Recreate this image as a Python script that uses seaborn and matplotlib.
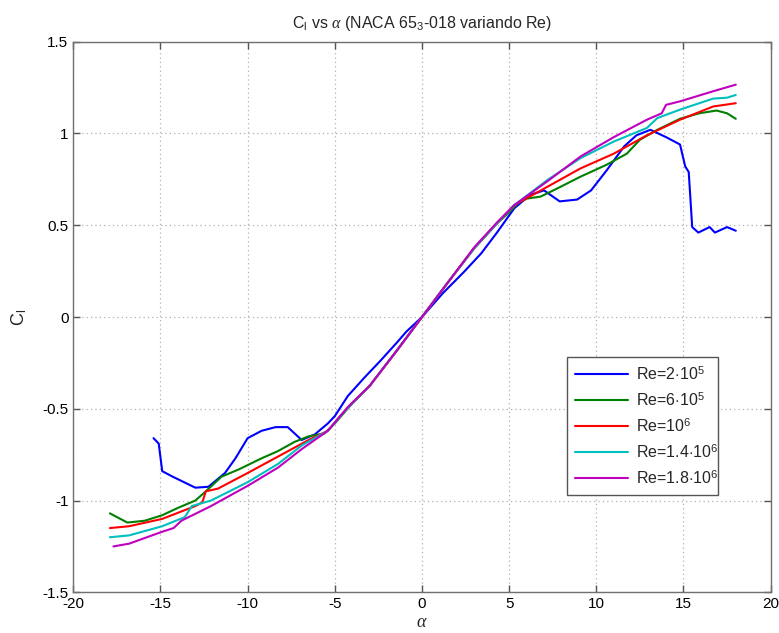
import numpy as np
import pandas as pd
import matplotlib
matplotlib.use("Agg")
import matplotlib.pyplot as plt
import seaborn as sns

# ---- data ----
labels = [r"Re=2$\cdot$10$^{5}$", r"Re=6$\cdot$10$^{5}$", r"Re=10$^{6}$",
          r"Re=1.4$\cdot$10$^{6}$", r"Re=1.8$\cdot$10$^{6}$"]

alpha_2e5 = [-15.4, -15.1, -14.9, -14.3, -13.0, -12.25, -11.3, -10.7, -10.0, -9.2, -8.4, -7.7,
             -6.9, -6.15, -5.4, -5.0, -4.25, -3.3, -2.4, -1.4, -0.9, 0.0, 1.2, 2.4, 3.4, 4.3,
             5.3, 6.2, 7.0, 7.9, 8.9, 9.7, 10.6, 11.6, 12.3, 13.1, 14.0, 14.8, 15.1, 15.3, 15.5,
             15.85, 16.5, 16.8, 17.5, 18.0]
cl_2e5 = [-0.66, -0.69, -0.84, -0.87, -0.93, -0.925, -0.85, -0.77, -0.66, -0.62, -0.60, -0.60,
          -0.67, -0.64, -0.58, -0.54, -0.43, -0.33, -0.24, -0.135, -0.08, 0.0, 0.13, 0.245,
          0.347, 0.46, 0.593, 0.665, 0.69, 0.63, 0.64, 0.69, 0.80, 0.93, 0.99, 1.02, 0.98, 0.94,
          0.82, 0.79, 0.49, 0.46, 0.49, 0.46, 0.49, 0.47]

alpha_6e5 = [-17.9, -16.9, -15.9, -14.9, -14.0, -13.0, -12.4, -11.5, -10.5, -9.2, -8.25, -7.3,
             -6.5, -5.6, -5.0, -4.0, -3.0, -1.5, 0.0, 1.5, 3.0, 4.3, 5.0, 5.5, 6.0, 6.8, 7.75, 9.1,
             10.6, 11.75, 12.5, 13.5, 14.8, 15.9, 16.9, 17.5, 18.0]
cl_6e5 = [-1.07, -1.12, -1.11, -1.08, -1.04, -1.00, -0.95, -0.87, -0.83, -0.77, -0.73, -0.68,
          -0.65, -0.635, -0.58, -0.47, -0.375, -0.19, 0.0, 0.19, 0.375, 0.51, 0.57, 0.62, 0.645,
          0.656, 0.70, 0.765, 0.83, 0.89, 0.966, 1.02, 1.08, 1.11, 1.125, 1.11, 1.08]

alpha_1e6 = [-17.9, -16.8, -14.9, -13.0, -12.6, -12.4, -11.7, -10.0, -8.25, -6.5, -5.4, -4.6,
             -3.0, -1.5, 0.0, 1.5, 3.0, 4.3, 5.3, 7.2, 9.1, 11.0, 12.9, 14.8, 16.7, 18.0]
cl_1e6 = [-1.15, -1.14, -1.10, -1.03, -1.01, -0.95, -0.935, -0.85, -0.76, -0.67, -0.62, -0.53,
          -0.375, -0.19, 0.0, 0.19, 0.375, 0.51, 0.61, 0.71, 0.81, 0.89, 0.99, 1.075, 1.147, 1.165]

alpha_14e6 = [-17.9, -16.8, -14.9, -13.6, -13.2, -12.1, -10.0, -8.25, -6.9, -5.4, -4.4, -3.0,
              -1.5, 0.0, 1.5, 3.0, 4.3, 5.3, 7.2, 9.1, 11.0, 12.9, 13.5, 14.8, 16.7, 17.5, 18.0]
cl_14e6 = [-1.20, -1.19, -1.14, -1.09, -1.03, -1.00, -0.90, -0.80, -0.70, -0.62, -0.51, -0.375,
           -0.19, 0.0, 0.19, 0.375, 0.51, 0.61, 0.747, 0.866, 0.956, 1.03, 1.084, 1.13, 1.19,
           1.195, 1.21]

alpha_18e6 = [-17.7, -16.8, -14.9, -14.25, -13.8, -12.1, -10.0, -8.25, -6.9, -5.4, -4.25, -3.0,
              -1.5, 0.0, 1.5, 3.0, 4.3, 5.3, 7.2, 9.1, 11.0, 12.9, 13.75, 14.0, 14.8, 16.7, 18.0]
cl_18e6 = [-1.25, -1.235, -1.17, -1.15, -1.11, -1.03, -0.92, -0.82, -0.72, -0.62, -0.49, -0.375,
           -0.19, 0.0, 0.19, 0.38, 0.515, 0.61, 0.74, 0.875, 0.98, 1.075, 1.11, 1.156, 1.175,
           1.23, 1.266]

colors = ["#0000ff", "#008000", "#ff0000", "#00bfbf", "#bf00bf"]
xticks = [-20, -15, -10, -5, 0, 5, 10, 15, 20]
yticks = [-1.5, -1, -0.5, 0, 0.5, 1, 1.5]
ytick_labels = ["-1.5", "-1", "-0.5", "0", "0.5", "1", "1.5"]

series = [(alpha_2e5, cl_2e5), (alpha_6e5, cl_6e5), (alpha_1e6, cl_1e6),
          (alpha_14e6, cl_14e6), (alpha_18e6, cl_18e6)]
frames = []
for lab, (a, c) in zip(labels, series):
    frames.append(pd.DataFrame({"alpha": a, "cl": c, "Re": lab}))
df = pd.concat(frames, ignore_index=True)

sns.set_theme(style="white")
plt.rcParams["font.family"] = ["Liberation Sans", "DejaVu Sans"]
plt.rcParams["mathtext.fontset"] = "custom"
plt.rcParams["mathtext.rm"] = "Liberation Sans"
plt.rcParams["mathtext.it"] = "Liberation Serif:italic"

fig = plt.figure(figsize=(7.79, 6.33), dpi=100)
ax = fig.add_axes([0.0941, 0.0643, 0.8952, 0.8698])

sns.lineplot(data=df, x="alpha", y="cl", hue="Re", palette=colors, sort=False,
             estimator=None, units="Re", lw=1.5, ax=ax)

ax.set_xlim(-20, 20)
ax.set_ylim(-1.5, 1.5)
ax.set_xticks(xticks)
ax.set_xticklabels([str(t) for t in xticks])
ax.set_yticks(yticks)
ax.set_yticklabels(ytick_labels)
ax.grid(True, linestyle=(0, (1, 2.5)), color="#b0b0b0", linewidth=0.9)
ax.tick_params(direction="in", length=5, width=1, colors="#555555", labelcolor="black",
               labelsize=11, top=True, right=True, bottom=True, left=True)
for s in ax.spines.values():
    s.set_color("#707070")
    s.set_linewidth(1.0)

ax.set_title(r"C$_{\mathregular{l}}$ vs $\alpha$ (NACA 65$_{\mathregular{3}}$-018 variando Re)",
             fontsize=11.5, pad=10)
ax.set_xlabel(r"$\alpha$", fontsize=13, labelpad=2)
ax.set_ylabel(r"C$_{\mathregular{l}}$", fontsize=13)
ax.yaxis.set_label_coords(-0.063, 0.5)

handles, labs = ax.get_legend_handles_labels()
leg = ax.legend(handles, labs, loc="lower left", bbox_to_anchor=(0.708, 0.177, 0.2165, 0.26),
                mode="expand", fontsize=11.5, frameon=True, fancybox=False, framealpha=1,
                edgecolor="#555555", handlelength=3.3, borderaxespad=0, labelspacing=0.5,
                borderpad=0.5, handletextpad=0.5)
leg.get_frame().set_linewidth(1.0)

fig.savefig("out.png", dpi=100)
